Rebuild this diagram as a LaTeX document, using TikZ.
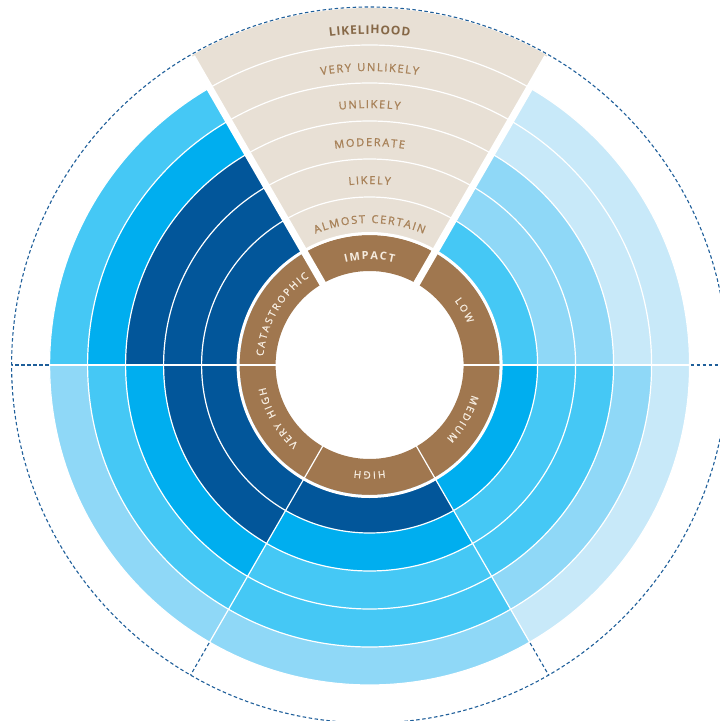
\documentclass[tikz,border=0pt]{standalone}
\usepackage{fontspec}
\setmainfont{Open Sans}
\newfontfamily\labelfont[FakeBold=1.2]{Open Sans}
\usetikzlibrary{decorations.text}
\definecolor{riskA}{HTML}{02569A}
\definecolor{riskB}{HTML}{00AEEF}
\definecolor{riskC}{HTML}{45C8F5}
\definecolor{riskD}{HTML}{8FD8F7}
\definecolor{riskE}{HTML}{C8E9F9}
\definecolor{sand}{HTML}{E8E0D5}
\definecolor{bark}{HTML}{A0774F}
\definecolor{tanlabel}{HTML}{A88259}
\definecolor{cream}{HTML}{F6ECDF}
\definecolor{dashblue}{HTML}{1F5F9A}
\tikzset{
  sandlabel/.style={font=\labelfont\fontsize{11}{13}\selectfont, text=tanlabel},
  sandhead/.style={font=\bfseries\fontsize{12}{14}\selectfont, text=tanlabel!80!black},
  ringlabel/.style={font=\labelfont\fontsize{10}{12}\selectfont, text=cream},
  ringhead/.style={font=\bfseries\fontsize{11}{13}\selectfont, text=cream}}
\newcommand{\arclabel}[6]{\path[decorate,decoration={text effects along path,text align=center,text={#6},
  text effects/.cd, text along path, characters={#4}, character widths={#4,inner xsep=#5pt}}]
  (#2:#1pt) arc[start angle=#2,end angle=#3,radius=#1pt];}

\begin{document}
\begin{tikzpicture}[
  sep/.style={white, line width=1.2pt},
  gap/.style={white, line width=7pt},
  dashline/.style={dashblue, line width=1.1pt, dash pattern=on 3.5pt off 2.5pt}]
\useasboundingbox (-369.6pt,-356pt) rectangle (350.4pt,365pt);
\fill[white] (-369.6pt,-356pt) rectangle (350.4pt,365pt);
\clip (-369.6pt,-356pt) rectangle (350.4pt,365pt);
\coordinate (c) at (0,0);
\draw[dashline] (c) circle[radius=358pt];
\draw[sand, line width=227pt] (60:243.5pt) arc[start angle=60, end angle=120, radius=243.5pt];
\foreach \a/\cols in {0/{riskC,riskD,riskD,riskE,riskE}, 120/{riskA,riskA,riskA,riskB,riskC},
    180/{riskA,riskA,riskB,riskC,riskD}, 240/{riskA,riskB,riskC,riskC,riskD},
    300/{riskB,riskC,riskC,riskD,riskE}}
  \foreach \c [count=\i] in \cols {
    \pgfmathsetmacro\r{111+38*\i}
    \draw[\c, line width=38pt] (\a:\r pt) arc[start angle=\a, end angle=\a+60, radius=\r pt];
  }
\draw[bark, line width=36pt] (c) circle[radius=112pt];
\foreach \r in {168,206,244,282,320}
  \draw[sep] (c) circle[radius=\r pt];
\draw[white, line width=3pt] (c) circle[radius=131.5pt];
\foreach \a in {0,180,240,300} {
  \draw[sep] (\a:93pt) -- (\a:321pt);
  \draw[dashline] (\a:321pt) -- (\a:358pt);
}
\foreach \a in {60,120}
  \draw[gap] (\a:90pt) -- (\a:355.5pt);
\arclabel{331}{120}{60}{sandhead}{0.4}{LIKELIHOOD}
\arclabel{294}{120}{60}{sandlabel}{0.8}{VERY UNLIKELY}
\arclabel{257}{120}{60}{sandlabel}{0.8}{UNLIKELY}
\arclabel{219}{120}{60}{sandlabel}{0.8}{MODERATE}
\arclabel{181}{120}{60}{sandlabel}{0.8}{LIKELY}
\arclabel{142}{120}{60}{sandlabel}{0.8}{ALMOST CERTAIN}
\arclabel{105.5}{120}{60}{ringhead}{0.75}{IMPACT}
\arclabel{106.5}{180}{120}{ringlabel}{1}{CATASTROPHIC}
\arclabel{106.5}{240}{180}{ringlabel}{1}{VERY HIGH}
\arclabel{106.5}{300}{240}{ringlabel}{1}{HIGH}
\arclabel{106.5}{360}{300}{ringlabel}{1}{MEDIUM}
\arclabel{106.5}{60}{0}{ringlabel}{1}{LOW}
\end{tikzpicture}
\end{document}
